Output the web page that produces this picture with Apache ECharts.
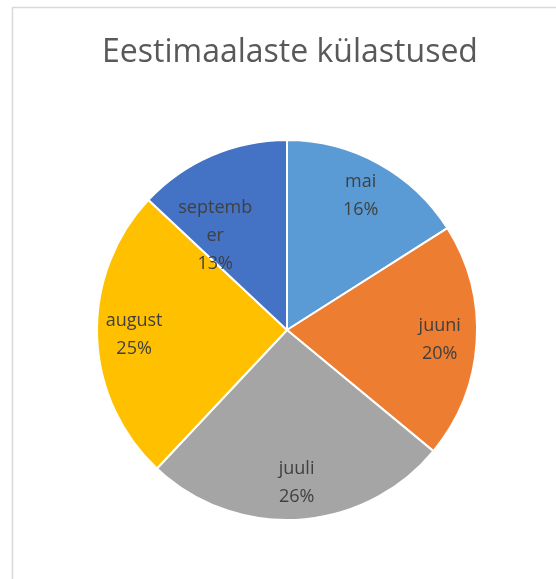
<!DOCTYPE html>
<html>
<head>
<meta charset="utf-8">
<script src="https://cdn.jsdelivr.net/npm/echarts@6/dist/echarts.min.js"></script>
<style>
  html, body { margin: 0; padding: 0; background: #fff; }
  #chart { width: 556px; height: 579px; }
</style>
</head>
<body>
<div id="chart"></div>
<script>
const months = ['mai', 'juuni', 'juuli', 'august', 'september']
const shares = [16, 20, 26, 25, 13]
const colors = ['#5b9bd5', '#ed7d31', '#a5a5a5', '#ffc000', '#4472c4']

const chart = echarts.init(document.getElementById('chart'))

const pieData = months.map((m, i) => ({
  name: m,
  value: shares[i],
  itemStyle: { color: colors[i] }
}))

// labels ride on a transparent ring; the wrapped september label sits a bit lower
const labelData = months.map((m, i) => {
  const item = { name: m, value: shares[i] }
  if (m === 'september') item.label = { offset: [-11, 46] }
  return item
})

const option = {
  backgroundColor: '#fff',
  animation: false,
  title: {
    text: 'Eestimaalaste külastused',
    left: 285,
    top: 32,
    textAlign: 'center',
    textStyle: {
      fontFamily: 'Open Sans',
      fontSize: 32,
      fontWeight: 'normal',
      color: '#595959'
    }
  },
  // chart area frame
  graphic: [{
    type: 'rect',
    shape: { x: 12.5, y: 7.5, width: 700, height: 700 },
    style: { fill: 'none', stroke: '#d9d9d9', lineWidth: 1.5 },
    silent: true,
    z: -1
  }],
  series: [
    {
      type: 'pie',
      center: [287, 330],
      radius: [0, 190],
      startAngle: 90,
      clockwise: true,
      silent: true,
      label: { show: false },
      labelLine: { show: false },
      itemStyle: { borderColor: '#fff', borderWidth: 2 },
      data: pieData
    },
    {
      type: 'pie',
      center: [287, 330],
      radius: [110, 190],
      startAngle: 90,
      clockwise: true,
      silent: true,
      itemStyle: { color: 'transparent', borderWidth: 0 },
      label: {
        show: true,
        position: 'inside',
        formatter: '{b}\n{c}%',
        fontFamily: 'Open Sans',
        fontSize: 18,
        lineHeight: 28,
        color: '#404040',
        width: 82,
        overflow: 'breakAll',
        align: 'center'
      },
      labelLine: { show: false },
      data: labelData
    }
  ]
}

chart.setOption(option)
</script>
</body>
</html>
